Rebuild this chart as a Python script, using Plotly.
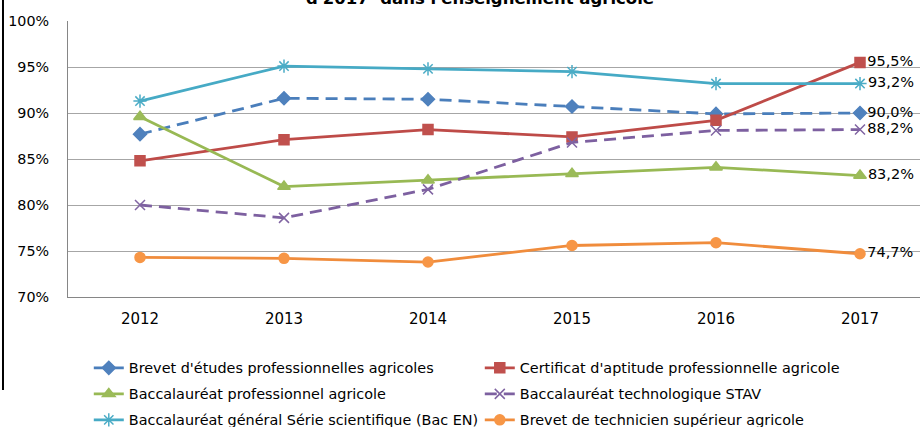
import plotly.graph_objects as go

years = ["2012", "2013", "2014", "2015", "2016", "2017"]

bepa = [87.7, 91.6, 91.5, 90.7, 89.9, 90.0]
capa = [84.8, 87.1, 88.2, 87.4, 89.2, 95.5]
bac_pro = [89.6, 82.0, 82.7, 83.4, 84.1, 83.2]
stav = [80.0, 78.6, 81.7, 86.8, 88.1, 88.2]
bac_s = [91.3, 95.1, 94.8, 94.5, 93.2, 93.2]
btsa = [74.3, 74.2, 73.8, 75.6, 75.9, 74.7]

names = [
    "Brevet d'études professionnelles agricoles",
    "Certificat d'aptitude professionnelle agricole",
    "Baccalauréat professionnel agricole",
    "Baccalauréat technologique STAV",
    "Baccalauréat général Série scientifique (Bac EN)",
    "Brevet de technicien supérieur agricole",
]
end_labels = ["90,0%", "95,5%", "83,2%", "88,2%", "93,2%", "74,7%"]
y_ticks = [70, 75, 80, 85, 90, 95, 100]
y_tick_text = ["70%", "75%", "80%", "85%", "90%", "95%", "100%"]
title_text = "d'2017  dans l'enseignement agricole"

series = [bepa, capa, bac_pro, stav, bac_s, btsa]
colors = ["#4A7EBB", "#BE4B48", "#98B954", "#7D60A0", "#46AAC5", "#F08C3C"]
mcolors = ["#4F81BD", "#C0504D", "#9BBB59", "#8064A2", "#4BACC6", "#F79646"]
symbols = ["diamond", "square", "triangle-up", "x-thin-open", "asterisk-open", "circle"]
msizes = [10, 10, 11, 10, 11, 10]
dashes = ["12px,7px", "solid", "solid", "12px,7px", "solid", "solid"]
legends = ["legend", "legend", "legend2", "legend2", "legend3", "legend3"]

FONT = "DejaVu Sans"

fig = go.Figure()
for vals, name, col, mcol, sym, ms, dash, lab, leg in zip(
    series, names, colors, mcolors, symbols, msizes, dashes, end_labels, legends
):
    texts = [""] * (len(years) - 1) + [lab]
    fig.add_trace(go.Scatter(
        x=years, y=vals, name=name, mode="lines+markers+text",
        text=texts, textposition="middle right",
        textfont=dict(family=FONT, size=14.5, color="#000000"),
        line=dict(color=col, width=2.8, dash=dash),
        marker=dict(symbol=sym, size=ms, color=mcol,
                    line=dict(color=mcol, width=1.5)),
        cliponaxis=False,
        legend=leg,
    ))

leg_common = dict(
    orientation="h", xanchor="left", yanchor="middle",
    x=0.0244, xref="paper", yref="container",
    entrywidth=346, entrywidthmode="pixels",
    font=dict(family=FONT, size=14.4, color="#000000"),
    bgcolor="rgba(0,0,0,0)", itemclick=False,
)

fig.update_layout(
    width=920, height=427,
    margin=dict(l=68, r=0, t=21, b=130, autoexpand=False),
    paper_bgcolor="white", plot_bgcolor="white",
    font=dict(family=FONT, color="#000000"),
    xaxis=dict(
        type="category", range=[-0.5, 5.4167],
        showline=True, linecolor="#868686", linewidth=1,
        showgrid=False, ticks="", ticklabelstandoff=8,
        tickfont=dict(family=FONT, size=15, color="#000000"),
        zeroline=False,
    ),
    yaxis=dict(
        range=[70, 100], tickvals=y_ticks, ticktext=y_tick_text,
        showline=True, linecolor="#868686", linewidth=1,
        showgrid=True, gridcolor="#A6A6A6", gridwidth=1,
        ticks="", ticklabelstandoff=15,
        tickfont=dict(family=FONT, size=14.3, color="#000000"),
        zeroline=False,
    ),
    legend=dict(leg_common, y=1 - 368 / 427),
    legend2=dict(leg_common, y=1 - 394 / 427),
    legend3=dict(leg_common, y=1 - 420 / 427),
    showlegend=True,
)

fig.add_annotation(
    text="<b>" + title_text + "</b>", xref="paper", yref="paper",
    x=0.4836, y=1.04, xanchor="center", yanchor="bottom", showarrow=False,
    font=dict(family=FONT, size=16.5, color="#000000"),
)

fig.add_shape(
    type="line", xref="paper", yref="paper",
    x0=-0.0763, x1=-0.0763, y0=-0.337, y1=1.1,
    line=dict(color="#000000", width=2),
)

fig.write_html(
    "out.html",
    config={"displayModeBar": False},
    post_script="document.body.style.margin='0px';document.body.style.overflow='hidden';",
)
